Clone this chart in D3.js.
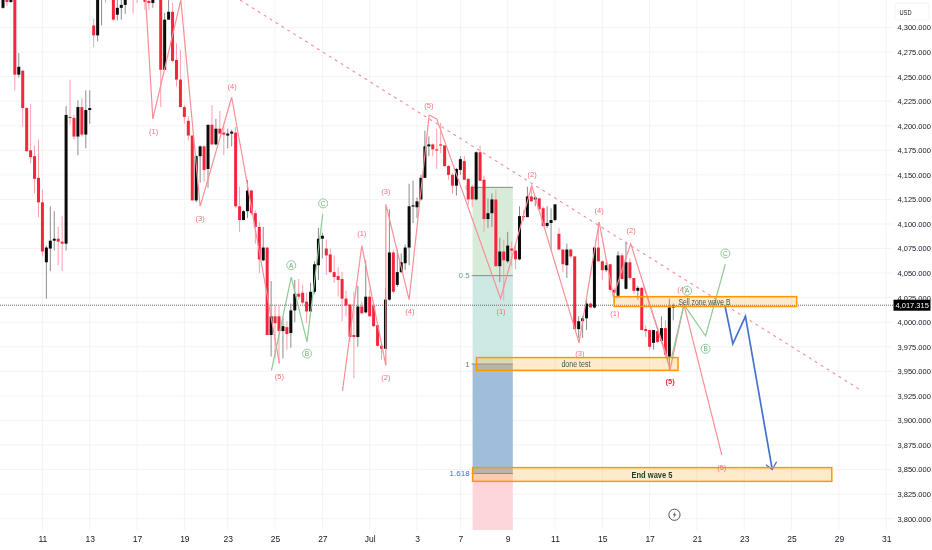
<!DOCTYPE html>
<html>
<head>
<meta charset="utf-8">
<script src="https://cdn.jsdelivr.net/npm/d3@7"></script>
<style>
  html, body { margin: 0; padding: 0; background: #fff; }
  svg { display: block; font-family: "Liberation Sans", Arial, sans-serif; filter: blur(0.3px); }
</style>
</head>
<body>
<svg width="932" height="550"></svg>
<script>
const opens = [4320,4330,4326,4332,4252,4256,4218,4175,4169,4147,4122,4061,4075,4083,4085,4082,4080,4209,4208,4189,4219,4191,4216,4302,4292,4335,4342,4345,4340,4313,4320,4323,4340,4345,4340,4340,4330,4327,4325,4336,4338,4257,4308,4316,4267,4247,4219,4205,4190,4124,4169,4179,4156,4201,4181,4197,4193,4190,4192,4193,4118,4104,4113,4134,4111,4097,4063,4076,3987,4006,4006,3991,3995,3989,4012,4029,4030,4021,4011,4031,4058,4085,4075,4069,4051,4047,4044,4024,4018,3987,3985,4016,4010,4026,4017,3997,3976,3973,4023,4071,4038,4051,4060,4076,4118,4117,4125,4147,4179,4181,4176,4181,4180,4159,4150,4139,4155,4164,4146,4138,4125,4173,4145,4105,4111,4125,4057,4072,4062,4075,4073,4064,4108,4107,4128,4125,4126,4116,4098,4101,4104,4090,4074,4058,4074,4067,3993,4001,4004,4019,4015,4076,4062,4053,4059,4033,4027,4068,4034,4061,4045,4032,4035,3993,3992,3979,3991,3981,3994,3965,4015]
const highs = [4340,4335,4334,4336,4274,4257,4219,4222,4180,4186,4135,4078,4118,4113,4097,4108,4220,4247,4211,4226,4228,4236,4236,4309,4345,4350,4350,4355,4345,4330,4330,4335,4350,4350,4345,4345,4335,4331,4333,4342,4345,4315,4335,4325,4284,4277,4221,4210,4190,4170,4180,4180,4201,4221,4207,4215,4200,4197,4196,4199,4138,4114,4145,4135,4114,4102,4097,4076,4042,4018,4018,4006,4001,4019,4043,4044,4038,4030,4040,4062,4096,4091,4084,4075,4068,4056,4051,4032,4019,4031,4037,4021,4063,4033,4019,3999,3979,4035,4115,4074,4074,4070,4079,4141,4144,4127,4150,4195,4189,4182,4197,4203,4180,4160,4152,4157,4169,4169,4146,4140,4174,4180,4149,4126,4131,4135,4086,4084,4092,4082,4080,4118,4114,4138,4139,4128,4127,4118,4118,4116,4120,4096,4074,4080,4075,4067,4006,4006,4023,4020,4076,4102,4063,4062,4059,4035,4072,4070,4082,4065,4045,4037,4036,3997,3992,3992,3992,4006,4002,4024,4019]
const lows = [4319,4322,4325,4236,4249,4199,4174,4162,4131,4107,4067,4024,4052,4073,4058,4052,4073,4201,4186,4170,4189,4177,4202,4280,4286,4302,4325,4332,4307,4307,4308,4314,4330,4314,4325,4330,4318,4318,4320,4330,4219,4257,4308,4265,4240,4219,4202,4185,4124,4122,4142,4143,4137,4180,4180,4192,4170,4177,4179,4116,4092,4104,4106,4109,4080,4050,4062,3987,3965,3963,3958,3963,3972,3974,4000,4023,4016,3999,4006,4029,4043,4065,4048,4050,4040,4026,4001,4006,3980,3943,3975,4009,4009,4006,3995,3975,3962,3973,4022,4029,4036,4050,4053,4058,4101,4106,4124,4147,4169,4169,4156,4172,4158,4145,4131,4129,4150,4145,4119,4117,4124,4144,4092,4096,4097,4057,4041,4022,4060,4057,4054,4063,4103,4107,4123,4118,4114,4097,4096,4074,4103,4074,4051,4045,4065,3993,3984,3984,3992,4015,4014,4062,4043,4051,4031,4019,4025,4043,4033,4043,4029,4023,3992,3985,3972,3972,3979,3979,3965,3951,4002]
const closes = [4334,4326,4330,4252,4260,4218,4174,4168,4146,4122,4072,4076,4083,4085,4082,4080,4211,4208,4189,4219,4191,4216,4218,4292,4335,4342,4340,4340,4308,4320,4323,4328,4345,4335,4335,4336,4326,4325,4330,4338,4257,4308,4316,4266,4247,4219,4209,4190,4124,4169,4179,4155,4201,4181,4197,4192,4191,4192,4194,4118,4104,4113,4134,4111,4097,4064,4076,3987,4006,3999,3991,3996,3988,4012,4029,4026,4020,4011,4031,4059,4085,4088,4068,4051,4046,4043,4024,4017,3985,3985,4016,4009,4026,4006,3996,3976,3973,4023,4071,4031,4051,4061,4076,4118,4119,4123,4147,4179,4181,4176,4175,4180,4159,4150,4139,4156,4166,4145,4125,4125,4173,4144,4105,4111,4125,4057,4072,4063,4078,4073,4064,4108,4107,4128,4123,4127,4115,4098,4101,4104,4120,4074,4059,4074,4067,3993,4001,4004,4019,4015,4076,4062,4053,4058,4033,4030,4068,4044,4061,4045,4032,4035,3992,3991,3975,3992,3980,3994,3967,4015,4017]

const lastPrice = 4017.315
const yTicks = d3.range(3800, 4301, 25)
const xTicks = [10,22,34,46,57,69,81,93,105,116,128,140,152,164,176,188,200,212,224]
const xTickLabels = ['11','13','17','19','23','25','27','Jul','3','7','9','11','15','17','21','23','25','29','31']

// drawings, as [bar, price]
const trendLine = [[60.1,4328],[217.9,3930]]
const waveOne = [[36.2,4328],[38.0,4207],[45.1,4328],[50.0,4118],[58.0,4229],[70.1,3958]]
const waveTwo = [[86.1,3930],[91.0,4078],[97.1,3956],[97.1,4120],[103.0,4023],[108.1,4211]]
const waveThree = [[108.1,4211],[110,4207],[126.2,4024],[134.1,4139],[146.1,3979],[151.2,4102],[154.8,4026],[159.2,4080],[169.2,3952],[172.7,4018],[182.3,3865]]
const waveFour = [[162.4,4038],[168.7,3961]]
const greenOne = [[68.1,3951],[73.1,4046],[77.1,3980],[81.1,4110]]
const greenTwo = [[169.6,3965],[172.7,4018],[178.2,3986],[183.2,4059]]
const bluePath = [[183.1,4017],[185.1,3978],[188.3,4006],[195.1,3850]]
const blueHead = [[193.5,3855],[195.1,3850],[196.2,3858]]

const zones = [
  {from: 155, to: 201.3, top: 4026, bottom: 4016},
  {from: 120.1, to: 171.2, top: 3964, bottom: 3951},
  {from: 119.1, to: 210.2, top: 3852, bottom: 3838}
]
const zoneText = [
  {text: 'Sell zone wave B', bar: 177.9, price: 4021, size: 8.5, width: 52, color: '#3d5a4c', weight: 400},
  {text: 'done test', bar: 145.3, price: 3957.5, size: 8.5, width: 29, color: '#3d5a4c', weight: 400},
  {text: 'End wave 5', bar: 164.6, price: 3845, size: 9.5, width: 41, color: '#1e3a2d', weight: 700}
]

const fibFrom = 119.1
const fibTo = 129.3
const fibPrices = [4137.3, 4047.4, 3957.4, 3846, 3788]
const fibFills = ['#d6ebd8', '#cde9e3', '#a0bddb', '#fdd6db']
const fibLabels = [
  {text: '0', price: 4137.3, color: '#9a9a9a'},
  {text: '0.5', price: 4047.4, color: '#6f9f74'},
  {text: '1', price: 3957.4, color: '#787b86'},
  {text: '1.618', price: 3846, color: '#3f6fd0'}
]

const waveLabels = [
  ['(1)',38.2,4194],['(3)',50,4106],['(4)',58.1,4240],['(5)',70.1,3945],
  ['(1)',91,4090],['(3)',97.1,4133],['(4)',103.2,4011],['(2)',97.1,3944],['(5)',108,4221],
  ['(1)',126.3,4011],['(2)',134.2,4151],['(3)',146.3,3968],['(4)',151.2,4114],
  ['(1)',155.2,4009],['(2)',159.3,4093],['(4)',172.2,4033],['(5)',182.3,3852]
]
const circleLabels = [
  ['A',73.1,4058],['B',77.1,3968],['C',81.2,4121],
  ['A',173.5,4032],['B',178.2,3973],['C',183.2,4070]
]

const svg = d3.select('svg')
const plotRight = 893
const plotBottom = 530

const x = d3.scaleLinear().domain([0, 224]).range([3, 886.2])
const y = d3.scaleLinear().domain([3800, 4300]).range([518.7, 27.5])

svg.append('defs').append('clipPath').attr('id', 'plot')
  .append('rect').attr('width', plotRight).attr('height', plotBottom)

// grid
svg.append('g').selectAll('line').data(yTicks).enter().append('line')
  .attr('x1', 0).attr('x2', plotRight)
  .attr('y1', d => y(d)).attr('y2', d => y(d))
  .attr('stroke', '#f2f3f5')
svg.append('g').selectAll('line').data(xTicks).enter().append('line')
  .attr('x1', d => x(d)).attr('x2', d => x(d))
  .attr('y1', 0).attr('y2', plotBottom)
  .attr('stroke', '#f2f3f5')

const chart = svg.append('g').attr('clip-path', 'url(#plot)')

// fib bands
chart.append('g').selectAll('rect').data(fibFills).enter().append('rect')
  .attr('x', x(fibFrom)).attr('width', x(fibTo) - x(fibFrom))
  .attr('y', (d, i) => y(fibPrices[i]))
  .attr('height', (d, i) => y(fibPrices[i + 1]) - y(fibPrices[i]))
  .attr('fill', d => d)
chart.append('g').selectAll('line').data(fibLabels).enter().append('line')
  .attr('x1', x(fibFrom) - 1).attr('x2', x(fibTo))
  .attr('y1', d => y(d.price)).attr('y2', d => y(d.price))
  .attr('stroke', '#8a8a8a')
chart.append('g').selectAll('text').data(fibLabels).enter().append('text')
  .attr('x', x(fibFrom) - 3).attr('y', d => y(d.price))
  .attr('dy', '0.35em').attr('text-anchor', 'end')
  .attr('font-size', 8).attr('fill', d => d.color)
  .text(d => d.text)

// price line
chart.append('line')
  .attr('x1', 0).attr('x2', plotRight)
  .attr('y1', y(lastPrice)).attr('y2', y(lastPrice))
  .attr('stroke', '#666').attr('stroke-dasharray', '1 1')

// candles
const red = '#f5253c'
const black = '#0b0b0b'
const bars = chart.append('g').selectAll('g').data(opens).enter().append('g')
bars.append('line')
  .attr('x1', (d, i) => x(i)).attr('x2', (d, i) => x(i))
  .attr('y1', (d, i) => y(highs[i])).attr('y2', (d, i) => y(lows[i]))
  .attr('stroke', (d, i) => closes[i] >= d ? '#8c8c8c' : '#f9a0aa')
bars.append('rect')
  .attr('x', (d, i) => x(i) - 1.5).attr('width', 3)
  .attr('y', (d, i) => y(Math.max(d, closes[i])))
  .attr('height', (d, i) => Math.max(1.2, Math.abs(y(d) - y(closes[i]))))
  .attr('fill', (d, i) => closes[i] >= d ? black : red)

const line = d3.line().x(d => x(d[0])).y(d => y(d[1]))

// wave counts
const drawLine = (pts, color, width, dash) => {
  chart.append('path').datum(pts)
    .attr('d', line).attr('fill', 'none')
    .attr('stroke', color).attr('stroke-width', width)
    .attr('stroke-dasharray', dash || null)
}
drawLine(trendLine, '#f58d98', 1.1, '3 4')
;[waveOne, waveTwo, waveThree, waveFour].forEach(w => drawLine(w, '#f78f98', 1.2))
;[greenOne, greenTwo].forEach(w => drawLine(w, '#8ecb94', 1.2))
drawLine(bluePath, '#4472cf', 1.7)
drawLine(blueHead, '#4472cf', 1.3)

// zones
chart.append('g').selectAll('rect').data(zones).enter().append('rect')
  .attr('x', d => x(d.from)).attr('width', d => x(d.to) - x(d.from))
  .attr('y', d => y(d.top)).attr('height', d => y(d.bottom) - y(d.top))
  .attr('fill', 'rgba(255,152,0,0.2)')
  .attr('stroke', '#ff9800').attr('stroke-width', 1.5)
chart.append('g').selectAll('text').data(zoneText).enter().append('text')
  .attr('x', d => x(d.bar)).attr('y', d => y(d.price))
  .attr('dy', '0.35em').attr('text-anchor', 'middle')
  .attr('font-size', d => d.size).attr('font-weight', d => d.weight)
  .attr('textLength', d => d.width).attr('lengthAdjust', 'spacingAndGlyphs')
  .attr('fill', d => d.color)
  .text(d => d.text)

// wave labels
chart.append('g').selectAll('text').data(waveLabels).enter().append('text')
  .attr('x', d => x(d[1])).attr('y', d => y(d[2]))
  .attr('dy', '0.35em').attr('text-anchor', 'middle')
  .attr('font-size', 7.5).attr('fill', '#f5707c')
  .text(d => d[0])
chart.append('text')
  .attr('x', x(169.2)).attr('y', y(3940)).attr('dy', '0.35em')
  .attr('text-anchor', 'middle').attr('font-size', 7.5).attr('font-weight', 700)
  .attr('fill', '#e8283c').text('(5)')

const circles = chart.append('g').selectAll('g').data(circleLabels).enter().append('g')
  .attr('transform', d => `translate(${x(d[1])},${y(d[2])})`)
circles.append('circle').attr('r', 4.5).attr('fill', '#fff').attr('fill-opacity', 0.5)
  .attr('stroke', '#8ecb94')
circles.append('text').attr('dy', '0.35em').attr('text-anchor', 'middle')
  .attr('font-size', 6.5).attr('fill', '#66b06e').text(d => d[0])

// lightning badge
const badge = svg.append('g').attr('transform', `translate(${x(170.3)},${y(3804)})`)
badge.append('circle').attr('r', 5.6).attr('fill', '#fff').attr('stroke', '#50535e')
badge.append('path').attr('d', 'M1.2,-3.6 L-1.8,0.6 L0,0.6 L-1.2,3.6 L1.8,-0.6 L0,-0.6 Z').attr('fill', '#50535e')

// axes
const yAxis = svg.append('g').attr('transform', 'translate(891,0)')
  .call(d3.axisRight(y).tickValues(yTicks).tickSize(0).tickPadding(6.5).tickFormat(d3.format(',.3f')))
yAxis.select('.domain').remove()
yAxis.selectAll('text').attr('font-size', 7.5).attr('fill', '#131722')

const xAxis = svg.append('g').attr('transform', `translate(0,${plotBottom})`)
  .call(d3.axisBottom(x).tickValues(xTicks).tickSize(0).tickPadding(6).tickFormat((d, i) => xTickLabels[i]))
xAxis.select('.domain').remove()
xAxis.selectAll('text').attr('font-size', 8.5).attr('fill', '#131722')

// USD box and last price tag
svg.append('rect').attr('x', 895).attr('y', 3).attr('width', 34).attr('height', 17).attr('rx', 2)
  .attr('fill', '#fff').attr('stroke', '#f0f3fa')
svg.append('text').attr('x', 899.5).attr('y', 15).attr('font-size', 8).attr('fill', '#131722')
  .attr('textLength', 12).attr('lengthAdjust', 'spacingAndGlyphs').text('USD')
svg.append('rect').attr('x', 893.5).attr('y', y(lastPrice) - 5.5).attr('width', 37).attr('height', 11)
  .attr('fill', '#000')
svg.append('text').attr('x', 895.5).attr('y', y(lastPrice)).attr('dy', '0.35em')
  .attr('font-size', 7.5).attr('fill', '#fff')
  .text(d3.format(',.3f')(lastPrice))
</script>
</body>
</html>
